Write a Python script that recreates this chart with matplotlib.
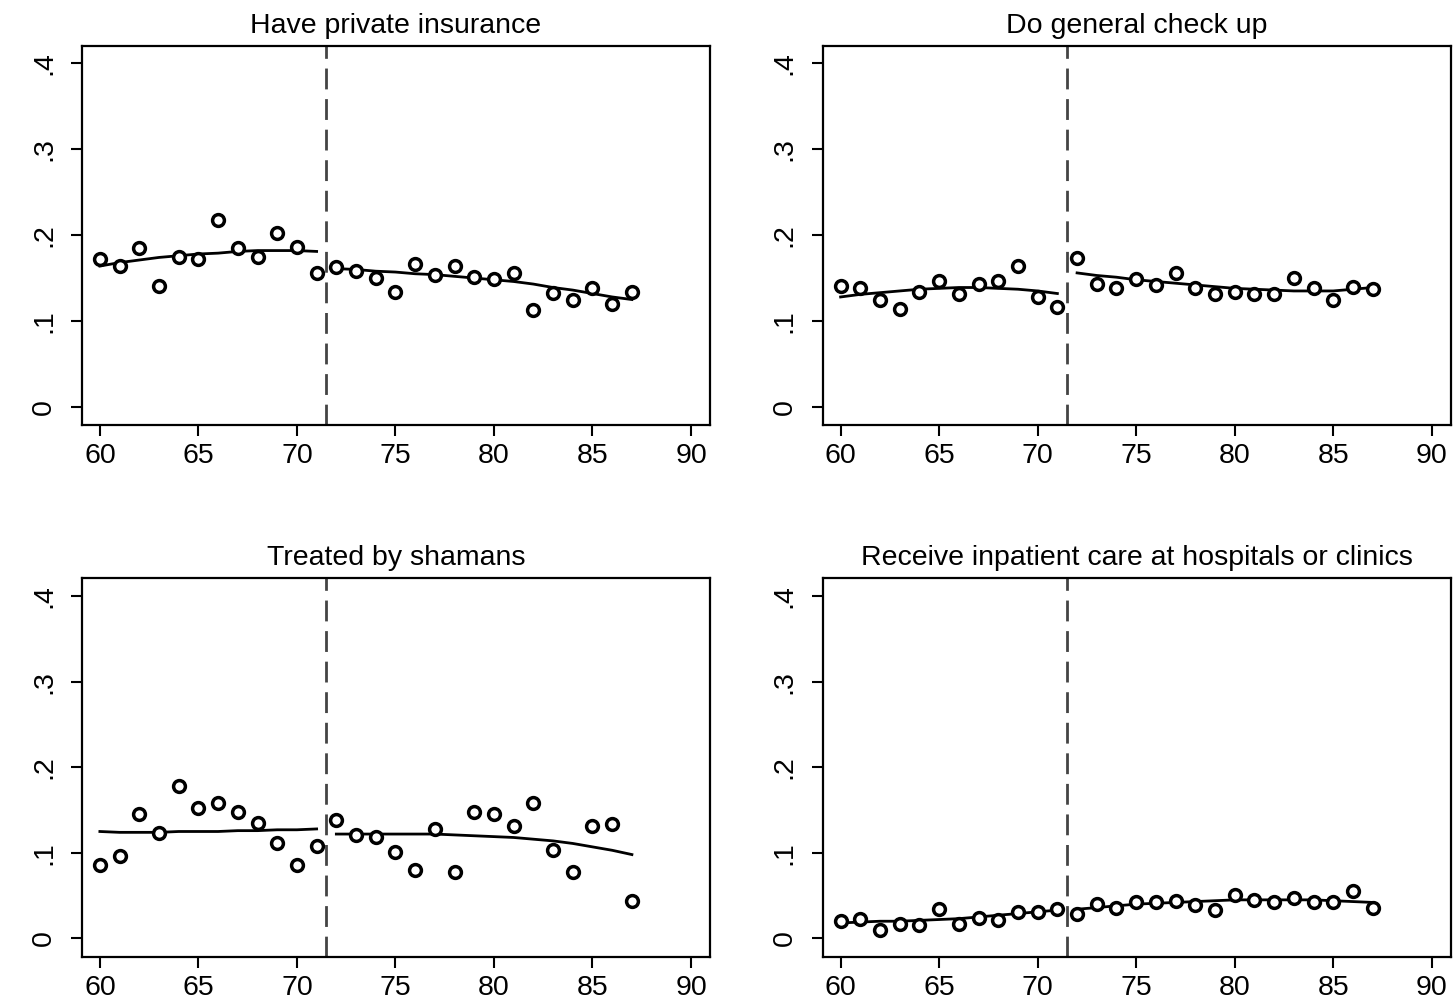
import numpy as np
import matplotlib.pyplot as plt

plt.rcParams['font.family'] = ['Liberation Sans', 'DejaVu Sans']

ages_left = list(range(60, 72))
ages_right = list(range(72, 88))
cutoff = 71.5

titles = ["Have private insurance", "Do general check up",
          "Treated by shamans", "Receive inpatient care at hospitals or clinics"]

# binned means
insurance = [0.172, 0.164, 0.185, 0.141, 0.174, 0.172, 0.217, 0.185, 0.174, 0.203, 0.186, 0.156,
             0.163, 0.158, 0.150, 0.134, 0.166, 0.153, 0.164, 0.151, 0.149, 0.156, 0.113, 0.133,
             0.125, 0.139, 0.120, 0.134]
checkup = [0.141, 0.138, 0.124, 0.114, 0.134, 0.147, 0.131, 0.143, 0.146, 0.164, 0.128, 0.116,
           0.173, 0.143, 0.138, 0.149, 0.142, 0.156, 0.138, 0.132, 0.134, 0.132, 0.132, 0.150,
           0.139, 0.125, 0.140, 0.137]
shamans = [0.086, 0.096, 0.145, 0.123, 0.178, 0.152, 0.158, 0.148, 0.135, 0.111, 0.086, 0.108,
           0.138, 0.121, 0.118, 0.101, 0.080, 0.128, 0.078, 0.148, 0.145, 0.131, 0.158, 0.103,
           0.078, 0.131, 0.134, 0.044]
inpatient = [0.020, 0.023, 0.010, 0.017, 0.016, 0.034, 0.017, 0.024, 0.022, 0.031, 0.031, 0.034,
             0.029, 0.040, 0.036, 0.042, 0.042, 0.044, 0.039, 0.033, 0.051, 0.045, 0.043, 0.047,
             0.043, 0.042, 0.055, 0.036]

# fitted curves (left / right of cutoff)
fit_insurance_l = [0.164, 0.168, 0.171, 0.174, 0.176, 0.178, 0.179, 0.181, 0.182, 0.182, 0.182, 0.181]
fit_insurance_r = [0.161, 0.160, 0.158, 0.157, 0.155, 0.154, 0.152, 0.150, 0.148, 0.146, 0.143,
                   0.139, 0.136, 0.132, 0.128, 0.125]
fit_checkup_l = [0.128, 0.131, 0.133, 0.135, 0.137, 0.138, 0.139, 0.139, 0.138, 0.137, 0.135, 0.132]
fit_checkup_r = [0.156, 0.153, 0.151, 0.148, 0.146, 0.144, 0.142, 0.140, 0.138, 0.137, 0.136,
                 0.135, 0.135, 0.135, 0.137, 0.139]
fit_shamans_l = [0.125, 0.124, 0.124, 0.124, 0.125, 0.125, 0.125, 0.126, 0.126, 0.127, 0.127, 0.128]
fit_shamans_r = [0.122, 0.122, 0.122, 0.122, 0.122, 0.122, 0.121, 0.120, 0.119, 0.118, 0.116,
                 0.114, 0.111, 0.107, 0.103, 0.098]
fit_inpatient_l = [0.018, 0.019, 0.020, 0.020, 0.021, 0.022, 0.023, 0.025, 0.027, 0.029, 0.031, 0.033]
fit_inpatient_r = [0.034, 0.036, 0.038, 0.040, 0.041, 0.042, 0.043, 0.044, 0.045, 0.045, 0.045,
                   0.045, 0.045, 0.044, 0.043, 0.042]

series = [insurance, checkup, shamans, inpatient]
fits = [(fit_insurance_l, fit_insurance_r), (fit_checkup_l, fit_checkup_r),
        (fit_shamans_l, fit_shamans_r), (fit_inpatient_l, fit_inpatient_r)]

fig = plt.figure(figsize=(14.53, 10.08), dpi=100)
positions = [[0.0564, 0.5784, 0.4322, 0.3763], [0.5662, 0.5784, 0.4322, 0.3763],
             [0.0564, 0.0509, 0.4322, 0.3760], [0.5662, 0.0509, 0.4322, 0.3760]]
ylims = [(-0.021, 0.4205), (-0.021, 0.4205), (-0.0215, 0.422), (-0.0215, 0.422)]

ages = ages_left + ages_right
for i in range(4):
    ax = fig.add_axes(positions[i])
    ax.axvline(cutoff, color="#444444", lw=2.0, dashes=(7.5, 3.5), zorder=1)
    ax.plot(ages_left, fits[i][0], color="k", lw=2.0, zorder=2)
    ax.plot(ages_right, fits[i][1], color="k", lw=2.0, zorder=2)
    ax.plot(ages, series[i], "o", ms=8.5, mfc="white", mec="k", mew=2.5, zorder=3)
    ax.set_xlim(59.09, 90.96)
    ax.set_ylim(*ylims[i])
    ax.set_xticks([60, 65, 70, 75, 80, 85, 90])
    ax.set_yticks([0, 0.1, 0.2, 0.3, 0.4])
    ax.set_yticklabels(["0", ".1", ".2", ".3", ".4"], rotation=90, va="center")
    ax.tick_params(labelsize=20.5, length=8, width=1.5, pad=5)
    ax.tick_params(axis="y", pad=10)
    for s in ax.spines.values():
        s.set_linewidth(1.6)
    ax.set_title(titles[i], fontsize=20.5, pad=9)

fig.savefig("out.png", dpi=100)
